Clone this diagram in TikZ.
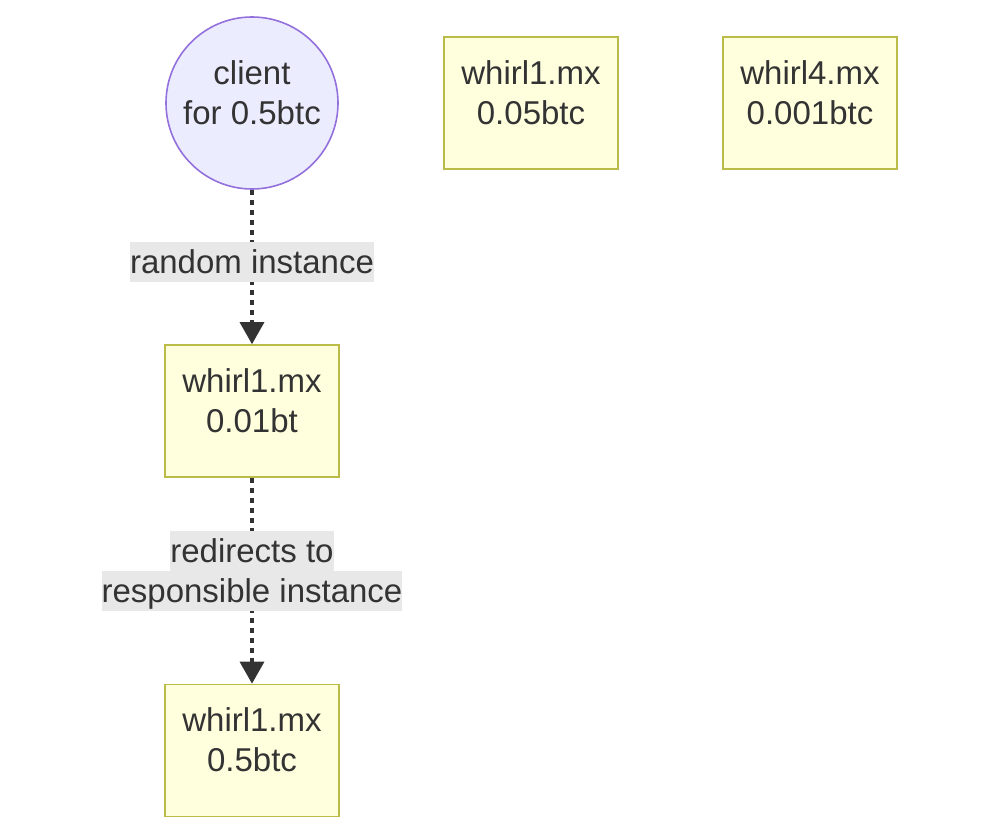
\documentclass[tikz,border=0pt]{standalone}
\usepackage{fontspec}
\setmainfont{Liberation Sans}
\usepackage{xcolor}
\usepackage{tikz}
\usetikzlibrary{shapes.geometric, arrows.meta, positioning}
\definecolor{clientfill}{HTML}{ECECFF}
\definecolor{clientline}{HTML}{9370DB}
\definecolor{boxfill}{HTML}{FFFFDE}
\definecolor{boxline}{HTML}{BBBB4A}
\definecolor{edgegray}{HTML}{333333}
\definecolor{labelbg}{HTML}{E8E8E8}
\newcommand{\hl}[1]{{\setlength{\fboxsep}{0pt}\colorbox{labelbg}{\rule[-9pt]{0pt}{40pt}#1}}}

\begin{document}
\begin{tikzpicture}[x=1pt, y=-1pt,
  every node/.style={font=\fontsize{33pt}{40pt}\selectfont, text=edgegray, align=center},
  client/.style={circle, draw=clientline, fill=clientfill, line width=1.6pt, minimum size=172pt, inner sep=0pt, text depth=21pt},
  inst/.style={draw=boxline, fill=boxfill, line width=1.6pt, minimum width=174pt, minimum height=132pt, inner sep=0pt, text depth=21pt},
  lbl/.style={inner sep=0pt},
  flow/.style={draw=edgegray, line width=3.3pt, dash pattern=on 5pt off 5pt, -{Triangle[length=22pt, width=24pt]}},
]
  \useasboundingbox (0,0) rectangle (996,834);
  \node[client] (client) at (252,103) {client\\for 0.5btc};
  \node[inst] (shard5) at (531,103) {whirl1.mx\\0.05btc};
  \node[inst] (shard4) at (810,103) {whirl4.mx\\0.001btc};
  \node[inst] (entry) at (252,411) {whirl1.mx\\0.01bt};
  \node[inst] (target) at (252,750.5) {whirl1.mx\\0.5btc};
  \draw[flow] (client) -- node[lbl, pos=0.47] (pick) {\hl{random instance}} (entry);
  \draw[flow] (entry) -- node[lbl, pos=0.454] (redir) {\hl{redirects to}\\\hl{responsible instance}} (target);
\end{tikzpicture}
\end{document}
